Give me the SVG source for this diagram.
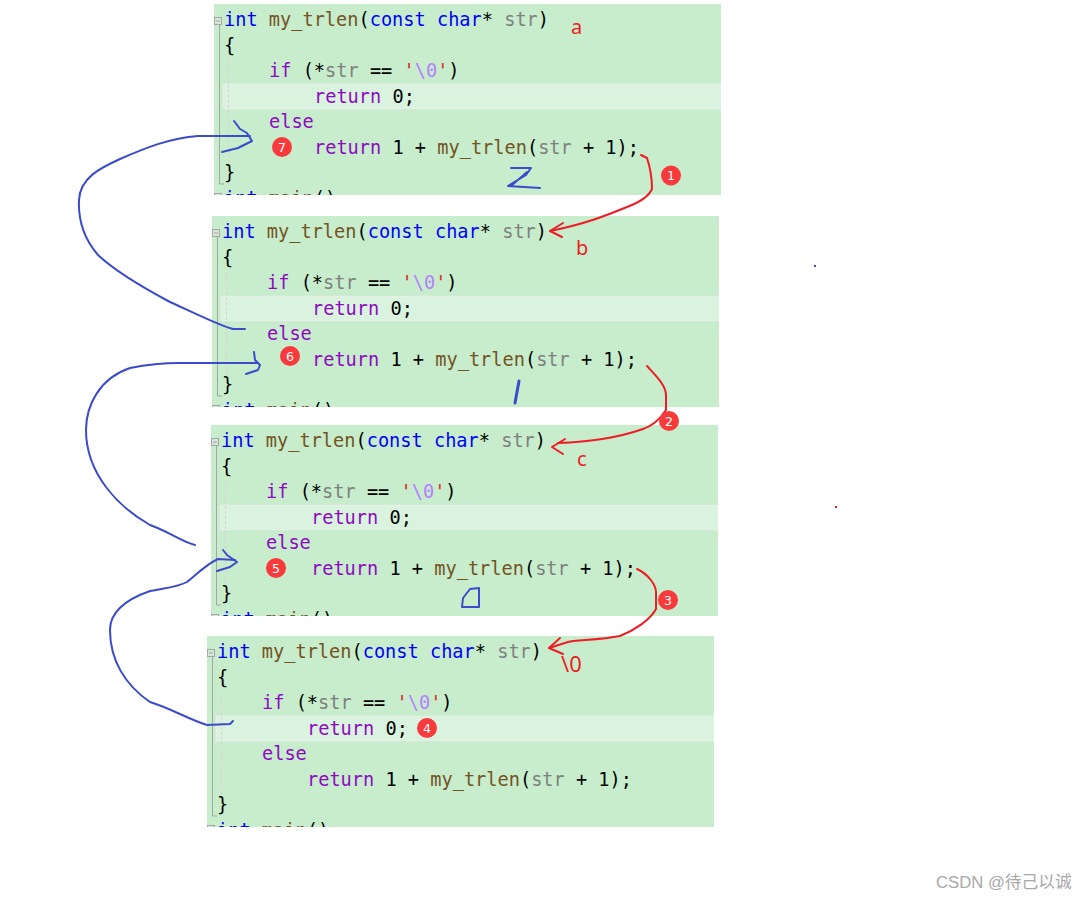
<svg xmlns="http://www.w3.org/2000/svg" width="1088" height="900" viewBox="0 0 1088 900">
<style>
.bg{fill:#c7edcc}
.hl{fill:#d9f3df;stroke:#e6efe8;stroke-width:1.5}
.fold{fill:none;stroke:#a5a5a5;stroke-width:1}
.box{fill:#d5e8d8;stroke:#a5a5a5;stroke-width:1}
.guide{stroke:#dccfd6;stroke-width:1;stroke-dasharray:3 2;fill:none}
.code{font-family:"DejaVu Sans Mono",monospace;font-size:18.62px;fill:#000;white-space:pre}
.k{fill:#0000ff}.f{fill:#74531f}.p{fill:#808080}.c{fill:#8f08c4}.q{fill:#e0282e}.e{fill:#b77eff}
.blue{fill:none;stroke:#3b4bcb;stroke-width:2;stroke-linejoin:round;stroke-linecap:round}
.red{fill:none;stroke:#ee1c25;stroke-width:2;stroke-linejoin:round;stroke-linecap:round}
.badge{fill:#f93a3c}
.num{font-family:"DejaVu Sans",sans-serif;font-size:12.5px;fill:#fff;text-anchor:middle}
.note{font-family:"Noto Sans",sans-serif;font-size:20px;fill:#ee1c25}
.mark{font-family:"Liberation Sans","Noto Sans CJK SC",sans-serif;font-size:16.7px;fill:#a8a8a8}
</style>
<defs>
<clipPath id="panelClip"><rect x="214" y="4" width="507" height="191"/></clipPath>
</defs>

<g id="panel-a" transform="translate(0 0)"><g clip-path="url(#panelClip)">
<rect class="bg" x="214" y="4" width="507" height="191"/>
<rect class="hl" x="223.5" y="84.5" width="498" height="24"/>
<path class="fold" d="M219.5 25V184H224"/><path class="guide" d="M228.5 60V165"/>
<rect class="box" x="214.5" y="17.5" width="7" height="7"/><path class="fold" d="M216 21H220"/><rect class="box" x="214.5" y="193.5" width="7" height="7"/>
<text class="code" x="224" y="26"><tspan class="k">int</tspan> <tspan class="f">my_trlen</tspan>(<tspan class="k">const</tspan> <tspan class="k">char</tspan>* <tspan class="p">str</tspan>)</text>
<text class="code" x="224" y="51.5">{</text>
<text class="code" x="269" y="77"><tspan class="c">if</tspan> (*<tspan class="p">str</tspan> == <tspan class="q">'</tspan><tspan class="e">\0</tspan><tspan class="q">'</tspan>)</text>
<text class="code" x="314" y="102.5"><tspan class="c">return</tspan> 0;</text>
<text class="code" x="269" y="128"><tspan class="c">else</tspan></text>
<text class="code" x="314" y="153.5"><tspan class="c">return</tspan> 1 + <tspan class="f">my_trlen</tspan>(<tspan class="p">str</tspan> + 1);</text>
<text class="code" x="224" y="179">}</text>
<text class="code" x="224" y="204.5"><tspan class="k">int</tspan> <tspan class="f">main</tspan>()</text>
</g></g>

<g id="panel-b" transform="translate(-2 212)"><g clip-path="url(#panelClip)">
<rect class="bg" x="214" y="4" width="507" height="191"/>
<rect class="hl" x="223.5" y="84.5" width="498" height="24"/>
<path class="fold" d="M219.5 25V184H224"/><path class="guide" d="M228.5 60V165"/>
<rect class="box" x="214.5" y="17.5" width="7" height="7"/><path class="fold" d="M216 21H220"/><rect class="box" x="214.5" y="193.5" width="7" height="7"/>
<text class="code" x="224" y="26"><tspan class="k">int</tspan> <tspan class="f">my_trlen</tspan>(<tspan class="k">const</tspan> <tspan class="k">char</tspan>* <tspan class="p">str</tspan>)</text>
<text class="code" x="224" y="51.5">{</text>
<text class="code" x="269" y="77"><tspan class="c">if</tspan> (*<tspan class="p">str</tspan> == <tspan class="q">'</tspan><tspan class="e">\0</tspan><tspan class="q">'</tspan>)</text>
<text class="code" x="314" y="102.5"><tspan class="c">return</tspan> 0;</text>
<text class="code" x="269" y="128"><tspan class="c">else</tspan></text>
<text class="code" x="314" y="153.5"><tspan class="c">return</tspan> 1 + <tspan class="f">my_trlen</tspan>(<tspan class="p">str</tspan> + 1);</text>
<text class="code" x="224" y="179">}</text>
<text class="code" x="224" y="204.5"><tspan class="k">int</tspan> <tspan class="f">main</tspan>()</text>
</g></g>

<g id="panel-c" transform="translate(-3 421)"><g clip-path="url(#panelClip)">
<rect class="bg" x="214" y="4" width="507" height="191"/>
<rect class="hl" x="223.5" y="84.5" width="498" height="24"/>
<path class="fold" d="M219.5 25V184H224"/><path class="guide" d="M228.5 60V165"/>
<rect class="box" x="214.5" y="17.5" width="7" height="7"/><path class="fold" d="M216 21H220"/><rect class="box" x="214.5" y="193.5" width="7" height="7"/>
<text class="code" x="224" y="26"><tspan class="k">int</tspan> <tspan class="f">my_trlen</tspan>(<tspan class="k">const</tspan> <tspan class="k">char</tspan>* <tspan class="p">str</tspan>)</text>
<text class="code" x="224" y="51.5">{</text>
<text class="code" x="269" y="77"><tspan class="c">if</tspan> (*<tspan class="p">str</tspan> == <tspan class="q">'</tspan><tspan class="e">\0</tspan><tspan class="q">'</tspan>)</text>
<text class="code" x="314" y="102.5"><tspan class="c">return</tspan> 0;</text>
<text class="code" x="269" y="128"><tspan class="c">else</tspan></text>
<text class="code" x="314" y="153.5"><tspan class="c">return</tspan> 1 + <tspan class="f">my_trlen</tspan>(<tspan class="p">str</tspan> + 1);</text>
<text class="code" x="224" y="179">}</text>
<text class="code" x="224" y="204.5"><tspan class="k">int</tspan> <tspan class="f">main</tspan>()</text>
</g></g>

<g id="panel-d" transform="translate(-7 632)"><g clip-path="url(#panelClip)">
<rect class="bg" x="214" y="4" width="507" height="191"/>
<rect class="hl" x="223.5" y="84.5" width="498" height="24"/>
<path class="fold" d="M219.5 25V184H224"/><path class="guide" d="M228.5 60V165"/>
<rect class="box" x="214.5" y="17.5" width="7" height="7"/><path class="fold" d="M216 21H220"/><rect class="box" x="214.5" y="193.5" width="7" height="7"/>
<text class="code" x="224" y="26"><tspan class="k">int</tspan> <tspan class="f">my_trlen</tspan>(<tspan class="k">const</tspan> <tspan class="k">char</tspan>* <tspan class="p">str</tspan>)</text>
<text class="code" x="224" y="51.5">{</text>
<text class="code" x="269" y="77"><tspan class="c">if</tspan> (*<tspan class="p">str</tspan> == <tspan class="q">'</tspan><tspan class="e">\0</tspan><tspan class="q">'</tspan>)</text>
<text class="code" x="314" y="102.5"><tspan class="c">return</tspan> 0;</text>
<text class="code" x="269" y="128"><tspan class="c">else</tspan></text>
<text class="code" x="314" y="153.5"><tspan class="c">return</tspan> 1 + <tspan class="f">my_trlen</tspan>(<tspan class="p">str</tspan> + 1);</text>
<text class="code" x="224" y="179">}</text>
<text class="code" x="224" y="204.5"><tspan class="k">int</tspan> <tspan class="f">main</tspan>()</text>
</g></g>

<g id="connectors">
<path class="blue" d="M245 329H233C222 327 190 311 170 302C140 286 115 271 98 255C85 240 78 222 79 200C80 178 100 168 120 159C145 148 170 138 198 136L250 136"/>
<path class="blue" d="M234 121L240 129L247 133L252 141L238 148L222 152"/>
<path class="blue" d="M195 545C180 541 170 532 150 525C120 508 86 475 86 430C86 405 100 378 130 368C150 364 165 363 180 363L258 363"/>
<path class="blue" d="M254 352L255 360L260 365L258 370L246 374"/>
<path class="blue" d="M233 721L230 724L207 725C190 720 170 708 150 702C125 685 110 660 110 630C110 610 130 598 150 591C165 588 178 587 187 582C195 576 205 565 218 559L235 560"/>
<path class="blue" d="M223 550L227 555L237 562L230 567L217 571"/>
<path class="blue" d="M511 168L531 168L526 175L508 186L540 188M511 186L527 172"/>
<path class="blue" style="stroke-width:3" d="M519 381L515 403"/>
<path class="blue" d="M470 589L479 588V607H462L463 598Z"/>
<path class="red" d="M641 155L647 158C651 170 652 180 652 189C648 198 635 204 627 207C605 216 585 224 550 231"/>
<path class="red" d="M563 223L550 231L562 237"/>
<path class="red" d="M647 366C655 375 666 385 666 395L666 410C660 420 650 427 643 429C620 437 590 442 558 443"/>
<path class="red" d="M565 439L552 447L563 454"/>
<path class="red" d="M637 569C648 574 656 585 656 592L656 609C650 620 635 630 620 636C600 640 575 640 568 642L549 648"/>
<path class="red" d="M560 638L549 648L563 654"/>
</g>

<g id="badge-1"><circle class="badge" cx="671" cy="175.5" r="10"/><text class="num" x="671" y="180">1</text></g>
<g id="badge-2"><circle class="badge" cx="669" cy="421" r="10"/><text class="num" x="669" y="425.5">2</text></g>
<g id="badge-3"><circle class="badge" cx="668" cy="600" r="10"/><text class="num" x="668" y="604.5">3</text></g>
<g id="badge-4"><circle class="badge" cx="427" cy="728" r="10"/><text class="num" x="427" y="732.5">4</text></g>
<g id="badge-5"><circle class="badge" cx="276" cy="568" r="10"/><text class="num" x="276" y="572.5">5</text></g>
<g id="badge-6"><circle class="badge" cx="290" cy="356" r="10"/><text class="num" x="290" y="360.5">6</text></g>
<g id="badge-7"><circle class="badge" cx="282" cy="147" r="10"/><text class="num" x="282" y="151.5">7</text></g>

<g id="notes">
<text class="note" x="571" y="34">a</text>
<text class="note" x="576" y="255">b</text>
<text class="note" x="577" y="466">c</text>
<text class="note" style="font-size:22px" x="561" y="672">\0</text>
</g>
<rect x="814" y="265" width="2" height="2" fill="#3b4bcb"/>
<rect x="835" y="506" width="2" height="2" fill="#ee1c25"/>
<text class="mark" x="936" y="888">CSDN @待己以诚</text>
</svg>
